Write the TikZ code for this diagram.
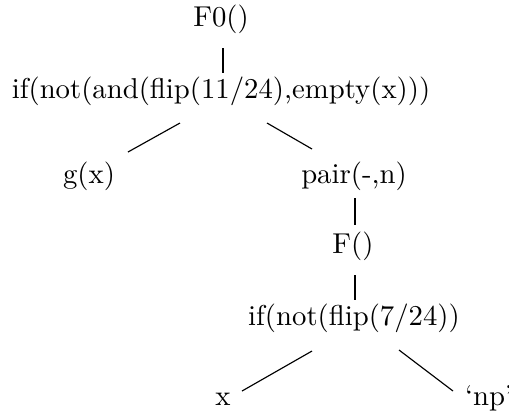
\documentclass[tikz,border=0pt]{standalone}
\usepackage{tikz}
\usetikzlibrary{calc}
\tikzset{lbl/.style={anchor=base, inner sep=0pt}}

\begin{document}
\begin{tikzpicture}[x=0.348pt, y=-0.348pt]
\useasboundingbox (0,0) rectangle (509,414);

% Root and first branching
\node[lbl] (f0) at (221,26) {F0()};
\node[lbl] (ifa) at (221,98) {if(not(and(flip(11/24),empty(x)))};
\node[lbl] (gx) at (89,183) {g(x)};
\node[lbl] (pair) at (354,183) {pair(-,n)};

% Recursive call
\node[lbl] (fcall) at (353,253) {F()};
\node[lbl] (ifb) at (354,325) {if(not(flip(7/24))};
\node[lbl] (xleaf) at (223,405) {x};
\node[lbl] (np) at (489,405) {`np'};

% Edges
\draw ($(f0.base)+(2,22)$) -- ($(ifa.base)+(2,-25)$);
\draw ($(ifa.base)+(-41,25)$) -- ($(gx.base)+(39,-31)$);
\draw ($(ifa.base)+(46,25)$) -- ($(pair.base)+(-42,-34)$);
\draw ($(pair.base)+(1,15)$) -- ($(fcall.base)+(2,-28)$);
\draw ($(fcall.base)+(2,22)$) -- ($(ifb.base)+(1,-25)$);
\draw ($(ifb.base)+(-42,26)$) -- ($(xleaf.base)+(19,-14)$);
\draw ($(ifb.base)+(45,25)$) -- ($(np.base)+(-36,-14)$);

\end{tikzpicture}
\end{document}
